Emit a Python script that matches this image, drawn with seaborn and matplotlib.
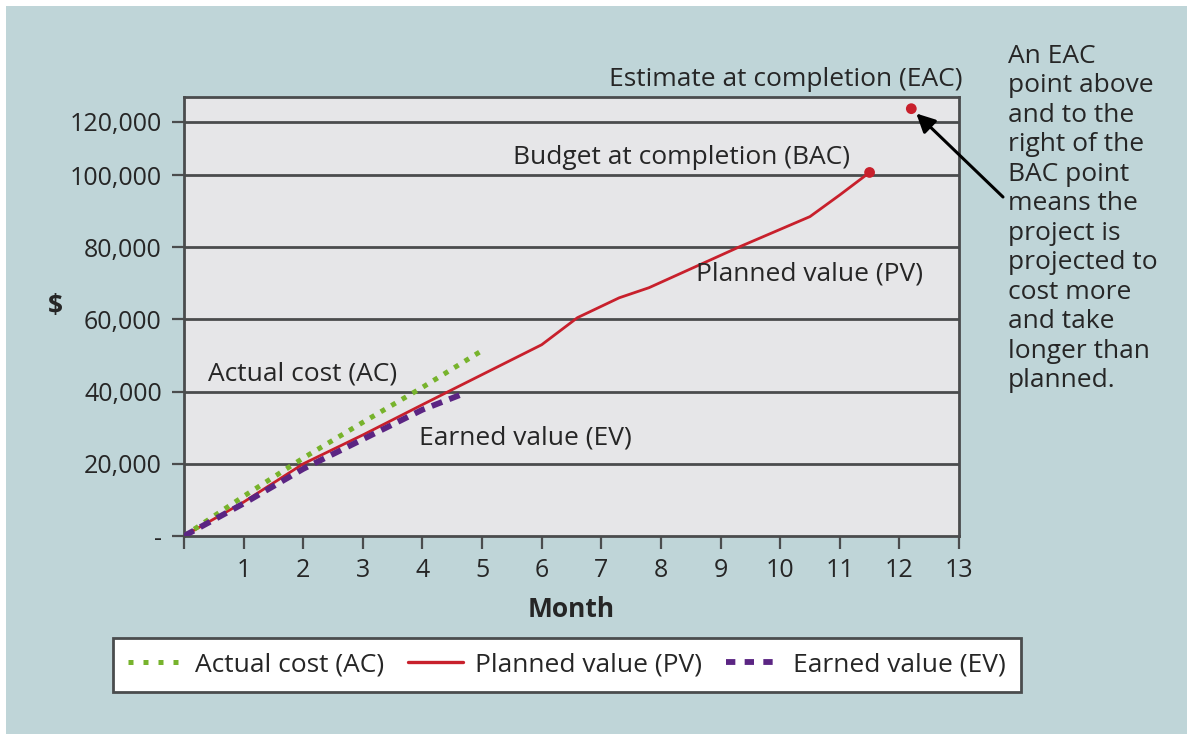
import numpy as np
import pandas as pd
import matplotlib
matplotlib.use("Agg")
import matplotlib.pyplot as plt
from matplotlib.lines import Line2D
from matplotlib.patches import Rectangle
import seaborn as sns

# ---- data -------------------------------------------------------------
pv_months = [0, 1, 2, 3, 4, 4.6, 6.0, 6.6, 7.3, 7.8, 9.3, 10.5, 11.0, 11.5]
pv_values = [0, 9400, 20000, 28000, 36400, 41400, 53000, 60500, 66000, 68800,
             80000, 88500, 94500, 101000]

ac_months = [0, 1, 2, 3, 4, 5.05]
ac_values = [0, 11000, 21600, 31500, 41200, 51900]

ev_months = [0, 1, 2, 3, 4, 4.65]
ev_values = [0, 9000, 18600, 26800, 35000, 39200]

bac_month, bac_value = 11.5, 101000
eac_month, eac_value = 12.2, 125000

x_ticks = list(range(0, 14))
x_tick_labels = [""] + [str(m) for m in range(1, 14)]
y_ticks = [0, 20000, 40000, 60000, 80000, 100000, 120000]
y_tick_labels = ["-", "20,000", "40,000", "60,000", "80,000", "100,000", "120,000"]

note_text = ("An EAC\npoint above\nand to the\nright of the\nBAC point\n"
             "means the\nproject is\nprojected to\ncost more\nand take\n"
             "longer than\nplanned.")

# ---- style ------------------------------------------------------------
sns.set_theme(style="white")
plt.rcParams["font.family"] = ["Open Sans", "DejaVu Sans"]
TEXT = "#262626"
GRID = "#4a4c4d"
RED = "#c8202c"
GREEN = "#77b32c"
PURPLE = "#5b2583"
PANEL = "#bfd5d8"
PLOT_BG = "#e6e6e8"
FS = 19
TICK_FS = 18

fig = plt.figure(figsize=(11.87, 7.34), dpi=100)
fig.patch.set_facecolor("white")
fig.patches.append(Rectangle((6 / 1187, 0), 1, 728 / 734, transform=fig.transFigure,
                             facecolor=PANEL, edgecolor="none", zorder=-10))

ax = fig.add_axes([184 / 1187, (734 - 536) / 734, 775 / 1187, 439 / 734])
ax.set_facecolor(PLOT_BG)

# upper part of the value axis is drawn compressed above 100,000
K = 53 / 72


def fwd(v):
    v = np.asarray(v, dtype=float)
    return np.where(v <= 1e5, v, 1e5 + (v - 1e5) * K)


def inv(t):
    t = np.asarray(t, dtype=float)
    return np.where(t <= 1e5, t, 1e5 + (t - 1e5) / K)


ax.set_yscale("function", functions=(fwd, inv))

pv = pd.DataFrame({"month": pv_months, "value": pv_values})
ac = pd.DataFrame({"month": ac_months, "value": ac_values})
ev = pd.DataFrame({"month": ev_months, "value": ev_values})
pts = pd.DataFrame({"month": [bac_month, eac_month], "value": [bac_value, eac_value]})

for val in y_ticks[1:]:
    ax.axhline(val, color=GRID, lw=2.0, zorder=1)

sns.lineplot(data=pv, x="month", y="value", ax=ax, color=RED, lw=2.0,
             sort=False, zorder=3)
sns.lineplot(data=ac, x="month", y="value", ax=ax, color=GREEN, lw=3.6,
             linestyle=(0, (1, 1.45)), sort=False, zorder=4)
sns.lineplot(data=ev, x="month", y="value", ax=ax, color=PURPLE, lw=4.2,
             linestyle=(0, (1.9, 1.3)), sort=False, zorder=5)
sns.scatterplot(data=pts, x="month", y="value", ax=ax, color=RED, s=60,
                edgecolor="none", zorder=6, clip_on=False)

ax.set_xlim(0, 13)
ax.set_ylim(0, 129400)
ax.set_xticks(x_ticks)
ax.set_xticklabels(x_tick_labels)
ax.set_yticks(y_ticks)
ax.set_yticklabels(y_tick_labels)
ax.minorticks_off()
ax.tick_params(axis="both", which="major", direction="out", length=9, width=1.6,
               color=GRID, labelsize=TICK_FS, labelcolor=TEXT, left=True, bottom=True)
ax.tick_params(axis="y", pad=7)
ax.tick_params(axis="x", pad=7)
for sp in ax.spines.values():
    sp.set_color(GRID)
    sp.set_linewidth(2.0)

ax.set_xlabel("Month", fontsize=FS, fontweight="bold", color=TEXT, labelpad=9)
ax.set_ylabel("$", fontsize=FS, fontweight="bold", color=TEXT, rotation=0)
ax.yaxis.set_label_coords(-0.166, 0.492)

# line labels
lbl = dict(fontsize=FS, color=TEXT, transform=ax.transAxes, va="center")
ax.text(0.031, 0.369, "Actual cost (AC)", ha="left", **lbl)
ax.text(0.303, 0.223, "Earned value (EV)", ha="left", **lbl)
ax.text(0.661, 0.597, "Planned value (PV)", ha="left", **lbl)
ax.text(0.425, 0.863, "Budget at completion (BAC)", ha="left", **lbl)
ax.text(1.004, 1.039, "Estimate at completion (EAC)", ha="right", clip_on=False, **lbl)

fig.text(1008 / 1187, (734 - 44) / 734, note_text, fontsize=FS, color=TEXT,
         ha="left", va="top", linespacing=1.235)

ax.annotate("", xy=(eac_month, eac_value), xycoords="data",
            xytext=(1003 / 1187, (734 - 197) / 734), textcoords="figure fraction",
            arrowprops=dict(arrowstyle="-|>", color="black", lw=2.2,
                            mutation_scale=28, shrinkA=0, shrinkB=5),
            annotation_clip=False)

handles = [
    Line2D([], [], color=GREEN, lw=3.6, linestyle=(0, (1, 2.0))),
    Line2D([], [], color=RED, lw=2.4),
    Line2D([], [], color=PURPLE, lw=4.2, linestyle=(0, (1.6, 1.6))),
]
labels = ["Actual cost (AC)", "Planned value (PV)", "Earned value (EV)"]
leg = fig.legend(handles, labels, loc="center",
                 bbox_to_anchor=(567 / 1187, (734 - 665) / 734), ncol=3,
                 fontsize=FS, frameon=True, fancybox=False, framealpha=1.0,
                 handlelength=2.1, columnspacing=0.9, handletextpad=0.45,
                 borderpad=0.55, borderaxespad=0, labelcolor=TEXT)
leg.get_frame().set_edgecolor(GRID)
leg.get_frame().set_linewidth(2.0)
leg.get_frame().set_facecolor("white")

fig.savefig("out.png", dpi=100, facecolor=fig.get_facecolor())
